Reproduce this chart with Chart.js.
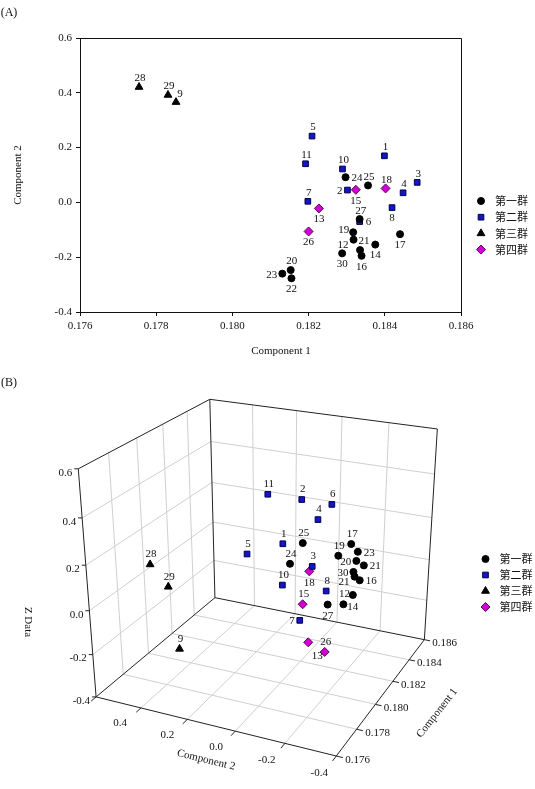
<!DOCTYPE html>
<html>
<head>
<meta charset="utf-8">
<script src="https://cdn.jsdelivr.net/npm/chart.js"></script>
<style>
  body { margin: 0; background: #fff; }
  #wrap { position: relative; width: 535px; height: 789px; }
  canvas { position: absolute; left: 0; }
  #chartA { top: 0; }
  #chartB { top: 370px; }
</style>
</head>
<body>
<div id="wrap">
  <canvas id="chartA" width="535" height="370" style="width:535px;height:370px"></canvas>
  <canvas id="chartB" width="535" height="419" style="width:535px;height:419px"></canvas>
</div>
<script>
// ---- data ----
const groupNames = ['第一群', '第二群', '第三群', '第四群'];
const pointIds = [1, 2, 3, 4, 5, 6, 7, 8, 9, 10, 11, 12, 13, 14, 15, 16, 17, 18, 19, 20, 21, 22, 23, 24, 25, 26, 27, 28, 29, 30];
const pointGroup = [1, 1, 1, 1, 1, 1, 1, 1, 2, 1, 1, 0, 3, 0, 3, 0, 0, 3, 0, 0, 0, 0, 0, 0, 0, 3, 0, 2, 2, 0];
const comp1 = [0.18399, 0.18302, 0.18485, 0.18448, 0.18209, 0.18334, 0.18198, 0.18419, 0.17852, 0.18289,
               0.18192, 0.18318, 0.18227, 0.18375, 0.18324, 0.18339, 0.18440, 0.18402, 0.18317, 0.18153,
               0.18335, 0.18155, 0.18131, 0.18297, 0.18356, 0.18200, 0.18334, 0.17755, 0.17831, 0.18288];
const comp2 = [0.170, 0.045, 0.073, 0.035, 0.242, -0.070, 0.004, -0.019, 0.366, 0.122,
               0.141, -0.136, -0.022, -0.154, 0.046, -0.195, -0.116, 0.051, -0.109, -0.247,
               -0.174, -0.277, -0.260, 0.092, 0.062, -0.106, -0.061, 0.421, 0.392, -0.186];
const zData = [0.050, 0.316, -0.078, 0.171, 0.065, 0.302, -0.198, -0.152, -0.247, -0.094,
               0.363, -0.146, -0.314, -0.123, -0.188, -0.028, 0.086, -0.062, 0.080, 0.152,
               -0.013, 0.137, 0.204, 0.011, 0.091, -0.328, -0.171, 0.173, 0.046, 0.032];
const comp1Ticks = [0.176, 0.178, 0.180, 0.182, 0.184, 0.186];
const comp2Ticks = [-0.4, -0.2, 0.0, 0.2, 0.4, 0.6];
const zTicks = [-0.4, -0.2, 0.0, 0.2, 0.4, 0.6];
// label text printed in panel B (the figure shows "21" next to point 22)
const labelTextB = { 22: '21' };

// ---- styles ----
const serif = '"Liberation Serif", "Times New Roman", serif';
const cjk = '"Noto Sans CJK TC", "Noto Sans CJK SC", sans-serif';
const ink = '#111';
const markers = [
  { pointStyle: 'circle', pointRadius: 3.5, pointBackgroundColor: '#000', pointBorderColor: '#000' },
  { pointStyle: 'rect', pointRadius: 4, pointBackgroundColor: '#1414c8', pointBorderColor: '#00004a' },
  { pointStyle: 'triangle', pointRadius: 4.5, pointBackgroundColor: '#000', pointBorderColor: '#000' },
  { pointStyle: 'rectRot', pointRadius: 4.5, pointBackgroundColor: '#d200d2', pointBorderColor: '#5a005a' }
];
// where each number sits next to its marker: t top, b bottom, l left, r right
const placeA = {1:'t',2:'l',3:'t',4:'t',5:'t',6:'r',7:'t',8:'b',9:'tr',10:'t',11:'t',12:'lb',13:'b',14:'b',15:'b',
  16:'b',17:'b',18:'t',19:'lt',20:'t',21:'tr',22:'b',23:'l',24:'r',25:'t',26:'b',27:'t',28:'t',29:'t',30:'b'};
const placeB = {1:'t',2:'t',3:'t',4:'t',5:'t',6:'t',7:'l',8:'t',9:'t',10:'t',11:'t',12:'t',13:'br',14:'b',15:'t',
  16:'r',17:'t',18:'b',19:'t',20:'l',21:'lb',22:'r',23:'r',24:'t',25:'t',26:'t',27:'b',28:'t',29:'t',30:'l'};

Chart.defaults.font.family = serif;
Chart.defaults.font.size = 11;
Chart.defaults.color = ink;
Chart.defaults.animation = false;
Chart.defaults.events = [];

function groupData(g, toPoint) {
  const out = [];
  pointIds.forEach((id, i) => { if (pointGroup[i] === g) out.push(toPoint(i, id)); });
  return out;
}

const labelPlugin = {
  id: 'pointLabels',
  afterDatasetsDraw(chart, args, opts) {
    const ctx = chart.ctx;
    ctx.save();
    ctx.font = '11px ' + serif;
    ctx.fillStyle = ink;
    ctx.textBaseline = 'middle';
    chart.data.datasets.forEach((ds, di) => {
      chart.getDatasetMeta(di).data.forEach((el, j) => {
        const id = ds.data[j].id;
        const text = (opts.text && opts.text[id]) || String(id);
        const pos = opts.place[id] || 't';
        let x = el.x, y = el.y;
        ctx.textAlign = 'center';
        if (pos === 't') { x += 1; y -= opts.up; }
        else if (pos === 'tr') { x += 4; y -= opts.up; }
        else if (pos === 'b') { y += opts.down; }
        else if (pos === 'br') { x += 9; y += opts.down + 2; }
        else if (pos === 'l') { ctx.textAlign = 'right'; x -= 5; y += 1; }
        else if (pos === 'lt') { ctx.textAlign = 'right'; x -= 4; y -= 2; }
        else if (pos === 'lb') { ctx.textAlign = 'right'; x -= 5; y += 5; }
        else if (pos === 'r') { ctx.textAlign = 'left'; x += 6; y += 1; }
        ctx.fillText(text, x, y);
      });
    });
    ctx.restore();
  }
};

function drawLegend(chart, lg) {
  const ctx = chart.ctx;
  ctx.save();
  groupNames.forEach((name, g) => {
    const y = lg.y + g * lg.dy;
    const m = markers[g];
    ctx.fillStyle = m.pointBackgroundColor;
    ctx.strokeStyle = m.pointBorderColor;
    ctx.lineWidth = 1;
    Chart.helpers.drawPoint(ctx, { pointStyle: m.pointStyle, radius: m.pointRadius, rotation: 0, borderWidth: 1 }, lg.x, y);
    ctx.fillStyle = ink;
    ctx.font = '11px ' + cjk;
    ctx.textAlign = 'left';
    ctx.textBaseline = 'middle';
    ctx.fillText(name, lg.x + 14, y);
  });
  ctx.restore();
}

function drawText(ctx, text, x, y, angle, font) {
  ctx.save();
  ctx.translate(x, y);
  ctx.rotate(angle * Math.PI / 180);
  ctx.font = font || ('11px ' + serif);
  ctx.fillStyle = ink;
  ctx.textAlign = 'center';
  ctx.textBaseline = 'middle';
  ctx.fillText(text, 0, 0);
  ctx.restore();
}

// ---- panel A ----
const decorA = {
  id: 'decorA',
  afterDraw(chart) {
    const ctx = chart.ctx, a = chart.chartArea;
    ctx.save();
    ctx.strokeStyle = ink;
    ctx.lineWidth = 1;
    ctx.beginPath();
    ctx.moveTo(a.left, Math.round(a.top) + 0.5);
    ctx.lineTo(a.right + 0.5, Math.round(a.top) + 0.5);
    ctx.lineTo(a.right + 0.5, a.bottom);
    ctx.stroke();
    ctx.restore();
    drawText(ctx, '(A)', 9, 13, 0, '12px ' + serif);
    drawText(ctx, 'Component 1', 281, 351, 0);
    drawText(ctx, 'Component 2', 18, 175, -90);
    drawLegend(chart, { x: 481, y: 201, dy: 16.2 });
  }
};

function fixedAxis(ticks, fmt, size, horizontal) {
  return {
    type: 'linear',
    min: ticks[0],
    max: ticks[ticks.length - 1],
    afterBuildTicks: s => { s.ticks = ticks.map(v => ({ value: v })); },
    afterFit: s => {
      if (horizontal) s.height = size; else s.width = size;
      s.paddingLeft = s.paddingRight = s.paddingTop = s.paddingBottom = 0;
    },
    grid: { drawOnChartArea: false, tickLength: 4, color: ink },
    border: { color: ink, width: 1 },
    ticks: { color: ink, font: { size: 11 }, padding: horizontal ? 4 : 4, autoSkip: false, maxRotation: 0,
             callback: v => Number(v).toFixed(fmt) }
  };
}

new Chart(document.getElementById('chartA'), {
  type: 'scatter',
  data: {
    datasets: groupNames.map((name, g) => Object.assign({
      label: name,
      pointBorderWidth: 1,
      data: groupData(g, (i, id) => ({ x: comp1[i], y: comp2[i], id: id }))
    }, markers[g]))
  },
  options: {
    responsive: false,
    layout: { padding: { top: 38, right: 74, left: 0, bottom: 0 } },
    scales: {
      x: fixedAxis(comp1Ticks, 3, 58, true),
      y: fixedAxis(comp2Ticks, 1, 80, false)
    },
    plugins: {
      legend: { display: false },
      tooltip: { enabled: false },
      pointLabels: { place: placeA, up: 8.5, down: 11 }
    }
  },
  plugins: [labelPlugin, decorA]
});

// ---- panel B: 3D box seen in perspective ----
const topB = 370;
// screen positions of the box corners and tick marks (page pixels), in box units 0..1
const frameAnchors = [
  [0, 0, 0, 335.7, 760], [0, 1, 0, 92.7, 700], [1, 0, 0, 426, 641], [1, 1, 0, 213.3, 598.3],
  [0, 1, 1, 74, 465.5], [1, 1, 1, 209, 394.3], [1, 0, 1, 440.7, 425],
  [0, 1, 0.8, 78.3, 517.3], [0, 1, 0.6, 81.7, 564], [0, 1, 0.4, 86, 611.7], [0, 1, 0.2, 89.3, 656.7],
  [0.2, 0, 0, 358.3, 734], [0.4, 0, 0, 379.3, 708.3], [0.6, 0, 0, 397.3, 683.3], [0.8, 0, 0, 412.7, 662.3]
];

function solveLinear(M, y) {
  const n = y.length;
  const A = M.map((r, i) => r.concat([y[i]]));
  for (let i = 0; i < n; i++) {
    let m = i;
    for (let k = i + 1; k < n; k++) if (Math.abs(A[k][i]) > Math.abs(A[m][i])) m = k;
    [A[i], A[m]] = [A[m], A[i]];
    for (let k = i + 1; k < n; k++) {
      const f = A[k][i] / A[i][i];
      for (let j = i; j <= n; j++) A[k][j] -= f * A[i][j];
    }
  }
  const x = new Array(n).fill(0);
  for (let i = n - 1; i >= 0; i--) {
    let s = A[i][n];
    for (let j = i + 1; j < n; j++) s -= A[i][j] * x[j];
    x[i] = s / A[i][i];
  }
  return x;
}

// least-squares camera matrix from the anchors
const U0 = 250, V0 = 200, SC = 200;
const cam = (function () {
  const rows = [], ys = [];
  frameAnchors.forEach(([a, b, c, u, v]) => {
    u = (u - U0) / SC; v = (v - topB - V0) / SC;
    rows.push([a, b, c, 1, 0, 0, 0, 0, -u * a, -u * b, -u * c]); ys.push(u);
    rows.push([0, 0, 0, 0, a, b, c, 1, -v * a, -v * b, -v * c]); ys.push(v);
  });
  const N = [], Y = [];
  for (let i = 0; i < 11; i++) {
    N.push([]);
    for (let j = 0; j < 11; j++) { let t = 0; rows.forEach(r => { t += r[i] * r[j]; }); N[i].push(t); }
    let s = 0; rows.forEach((r, k) => { s += r[i] * ys[k]; }); Y.push(s);
  }
  return solveLinear(N, Y);
})();

function projUnit(a, b, c) {
  const p = cam;
  const w = p[8] * a + p[9] * b + p[10] * c + 1;
  return { x: (p[0] * a + p[1] * b + p[2] * c + p[3]) / w * SC + U0,
           y: (p[4] * a + p[5] * b + p[6] * c + p[7]) / w * SC + V0 };
}
const span = t => [t[0], t[t.length - 1]];
const unit = (v, t) => (v - span(t)[0]) / (span(t)[1] - span(t)[0]);
function project(c1, c2, z) { return projUnit(unit(c1, comp1Ticks), unit(c2, comp2Ticks), unit(z, zTicks)); }

const boxB = {
  id: 'boxB',
  beforeDatasetsDraw(chart) {
    const ctx = chart.ctx, sx = chart.scales.x, sy = chart.scales.y;
    const P = (a, b, c) => { const q = projUnit(a, b, c); return [sx.getPixelForValue(q.x), sy.getPixelForValue(q.y)]; };
    const line = (p, q) => { ctx.moveTo(p[0], p[1]); ctx.lineTo(q[0], q[1]); };
    const inner = [0.2, 0.4, 0.6, 0.8];
    ctx.save();
    ctx.lineWidth = 1;
    ctx.strokeStyle = '#cfcfcf';
    ctx.beginPath();
    inner.forEach(t => {
      line(P(t, 1, 0), P(t, 1, 1));   // back-left wall, comp1 lines
      line(P(0, 1, t), P(1, 1, t));   // back-left wall, z lines
      line(P(1, t, 0), P(1, t, 1));   // back-right wall, comp2 lines
      line(P(1, 0, t), P(1, 1, t));   // back-right wall, z lines
      line(P(t, 0, 0), P(t, 1, 0));   // floor
      line(P(0, t, 0), P(1, t, 0));   // floor
    });
    ctx.stroke();
    ctx.strokeStyle = '#222';
    ctx.beginPath();
    line(P(0, 1, 0), P(0, 1, 1)); line(P(1, 1, 0), P(1, 1, 1)); line(P(1, 0, 0), P(1, 0, 1));
    line(P(0, 1, 1), P(1, 1, 1)); line(P(1, 1, 1), P(1, 0, 1));
    line(P(0, 0, 0), P(0, 1, 0)); line(P(0, 0, 0), P(1, 0, 0));
    line(P(0, 1, 0), P(1, 1, 0)); line(P(1, 0, 0), P(1, 1, 0));
    // tick marks
    zTicks.forEach(v => { const p = P(0, 1, unit(v, zTicks)); line(p, [p[0] - 4, p[1]]); });
    comp2Ticks.forEach(v => { const t = unit(v, comp2Ticks); line(P(0, t, 0), P(-0.035, t, 0)); });
    comp1Ticks.forEach(v => { const t = unit(v, comp1Ticks); line(P(t, 0, 0), P(t, -0.025, 0)); });
    ctx.stroke();
    // tick labels
    ctx.fillStyle = ink;
    ctx.font = '11px ' + serif;
    ctx.textBaseline = 'middle';
    ctx.textAlign = 'right';
    zTicks.forEach(v => { const p = P(0, 1, unit(v, zTicks)); ctx.fillText(v.toFixed(1), p[0] - 6, p[1] + 4); });
    ctx.textAlign = 'center';
    comp2Ticks.slice(0, -1).forEach(v => {
      const p = P(-0.13, unit(v, comp2Ticks), 0);
      ctx.fillText(v.toFixed(1), p[0] - 3, p[1] - 1);
    });
    ctx.textAlign = 'left';
    comp1Ticks.forEach(v => { const p = P(unit(v, comp1Ticks), -0.03, 0); ctx.fillText(v.toFixed(3), p[0] + 1, p[1] + 2); });
    ctx.restore();
  },
  afterDraw(chart) {
    const ctx = chart.ctx;
    drawText(ctx, '(B)', 9, 13, 0, '12px ' + serif);
    drawText(ctx, 'Z Data', 28, 252, 90);
    drawText(ctx, 'Component 2', 206, 390, 13.8);
    drawText(ctx, 'Component 1', 437, 343, -52);
    drawLegend(chart, { x: 485.5, y: 189, dy: 16 });
  }
};

new Chart(document.getElementById('chartB'), {
  type: 'scatter',
  data: {
    datasets: groupNames.map((name, g) => Object.assign({
      label: name,
      pointBorderWidth: 1,
      clip: false,
      data: groupData(g, (i, id) => Object.assign(project(comp1[i], comp2[i], zData[i]), { id: id }))
    }, markers[g]))
  },
  options: {
    responsive: false,
    layout: { padding: 0 },
    scales: {
      x: { type: 'linear', min: 0, max: 535, display: false },
      y: { type: 'linear', min: 0, max: 419, reverse: true, display: false }
    },
    plugins: {
      legend: { display: false },
      tooltip: { enabled: false },
      pointLabels: { place: placeB, up: 10, down: 12, text: labelTextB }
    }
  },
  plugins: [labelPlugin, boxB]
});
</script>
</body>
</html>
